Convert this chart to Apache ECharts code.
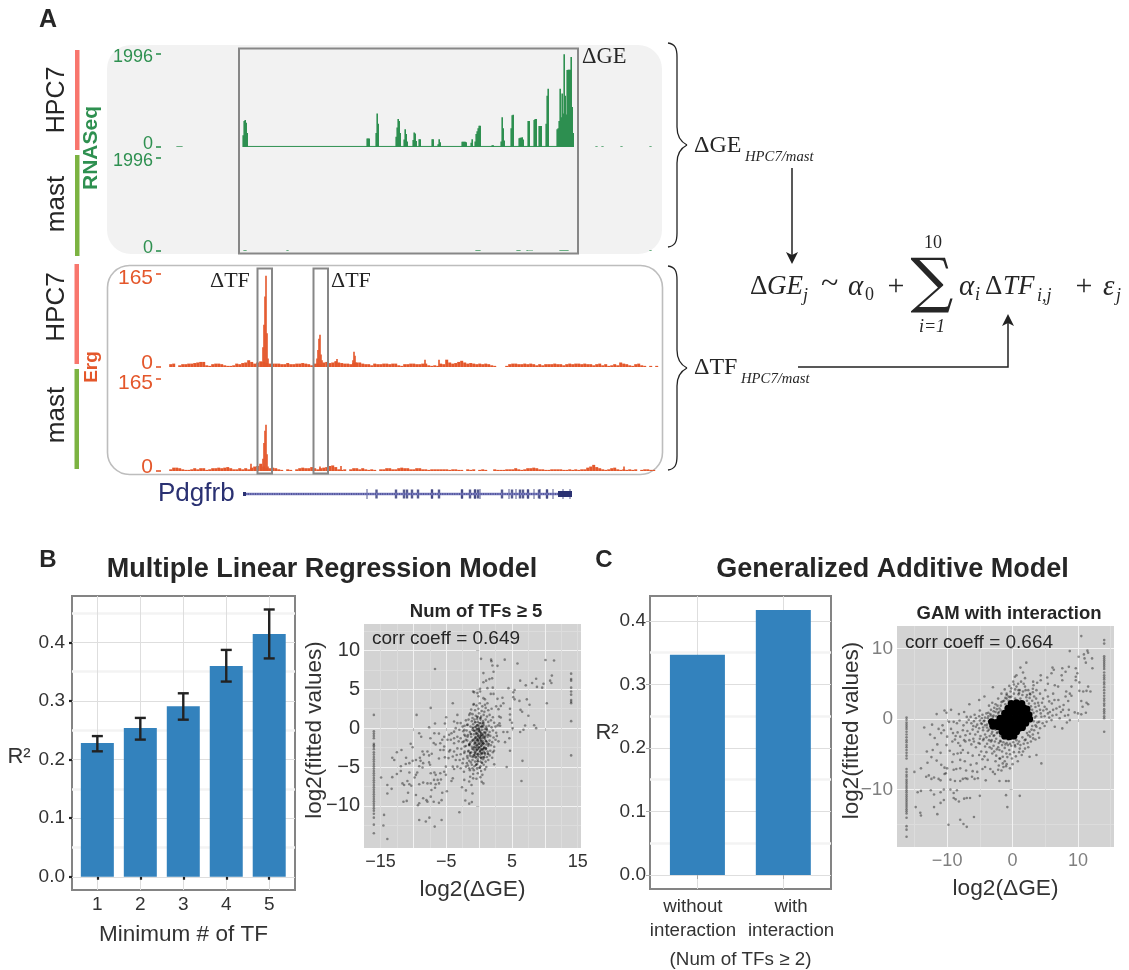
<!DOCTYPE html>
<html><head><meta charset="utf-8">
<script src="https://cdn.jsdelivr.net/npm/echarts@6/dist/echarts.min.js"></script>
<style>html,body{margin:0;background:#fff}#c{width:1129px;height:970px}</style></head>
<body><div id="c"></div>
<script>
// ---------- Panel A data (x = position along locus, y = track signal) ----------
const rnaHpc7Peaks=[[82,250],[83,560],[84,580],[85,520],[86,300],[206,180],[207,180],[208,180],[215,300],[216,720],[217,500],[235,220],[236,420],[237,600],[238,560],[239,300],[243,160],[244,380],[245,280],[246,120],[252,150],[253,310],[254,290],[255,130],[258,165],[259,165],[271,165],[272,165],[277,60],[278,165],[279,100],[301,110],[302,115],[303,115],[304,110],[305,100],[310,90],[311,165],[314,120],[315,280],[316,340],[317,400],[318,455],[319,455],[331,35],[332,35],[340,120],[341,640],[342,400],[343,140],[350,400],[351,680],[352,690],[358,190],[359,200],[360,200],[361,210],[362,160],[367,560],[368,560],[373,580],[374,600],[375,600],[378,450],[379,450],[380,450],[385,500],[386,1100],[387,1250],[396,380],[397,400],[398,560],[399,1250],[400,640],[401,1150],[402,720],[403,1990],[404,1100],[405,700],[406,1650],[407,1660],[408,1660],[409,1660],[410,1930],[411,860],[412,300]];
const rnaHpc7Base=[[82,12],[413,12]];
const rnaHpc7Stray=[[16,14],[17,14],[18,14],[19,14],[20,14],[21,14],[435,14],[436,14],[441,14],[442,14],[460,14],[461,14],[489,14],[490,14]];
const rnaMastStray=[[83,14],[84,14],[85,14],[126,14],[127,14],[315,14],[316,14],[317,14],[318,14],[319,14],[356,14],[357,14],[358,14],[359,14],[366,14],[367,14],[369,14],[371,14],[399,14],[400,14],[401,14],[402,14],[403,14],[404,14],[405,14],[406,14],[407,14],[489,14],[490,14]];
const ergBinStart=9;
const ergHpc7Small=[5,6,0,3,5,5,6,6,7,8, 9,9,3,2,5,6,6,5,3,2, 2,3,6,5,7,8,12,9,6,8, 10,9,7,6,6,6,6,5,5,7, 5,5,6,6,7,6,5,3,6,6, 5,8,9,7,8,10,8,7,6,6, 5,7,8,8,6,5,5,3,6,5, 5,6,6,5,6,6,3,2,5,5, 6,6,5,5,6,6,3,2,3,2, 6,5,13,8,6,7,9,11,8,6, 7,6,5,6,5,6,5,3,2,0, 0,0,2,5,6,6,5,5,6,5, 6,5,3,5,3,5,5,5,6,5, 5,3,5,6,5,6,6,5,6,5, 5,3,5,6,3,5,2,3,5,3, 8,6,5,3,2,5,6,3,2,0, 2,0,2];
const ergMastSmall=[3,6,6,5,3,2,2,3,5,3, 5,5,2,3,5,5,6,5,6,7, 5,3,3,5,3,5,3,6,8,9, 13,8,5,5,6,5,3,2,0,3, 2,0,3,5,6,5,5,7,5,3, 5,6,7,9,10,7,3,2,3,0, 3,5,5,3,5,3,2,3,2,0, 3,3,5,5,3,3,5,6,5,5, 3,3,5,5,3,3,2,3,3,3, 3,3,3,2,3,3,2,2,0,3, 2,3,0,2,3,2,0,0,3,2, 2,2,3,3,3,5,3,2,3,5, 5,6,5,3,3,2,2,3,3,3, 3,2,2,3,2,3,2,3,3,6, 8,11,7,5,3,2,3,5,6,3, 2,3,2,3,2,3,0,2,3,3, 2,2];
const ergHpc7Peaks=[[102,35],[103,75],[104,125],[105,162],[106,60],[107,15],[156,15],[157,30],[158,50],[159,57],[160,22],[161,12],[175,10],[176,14],[192,12],[193,27],[194,20],[195,8],[264,13],[278,13]];
const ergMastPeaks=[[102,22],[103,50],[104,72],[105,83],[106,30],[107,8],[90,13],[180,9],[159,8],[463,8]];
const geneSpan=[[82,0.5],[410,0.5]];
const geneCap=[[82,0.5],[85,0.5]];
const geneTail=[[397,0.5],[411,0.5]];
const geneExonsThin=[206,271,301,314,319,348,355,367,373,379,386,392,402,409];
const geneExonsThick=[215.5,235,243,246,251,257,271,278,301,309,314,317,341,351,359,362,367,378,386];
// ---------- Panel B data ----------
const barCatsB=[1,2,3,4,5];
const r2B=[0.228,0.2537,0.291,0.3595,0.414];
const errLowB=[0.214,0.234,0.268,0.333,0.3725];
const errHighB=[0.24,0.271,0.313,0.387,0.456];
const scatterColLeftB=[1.7,-0.4,-0.7,-1,-1.3,-2,-2.2,-2.4,-2.7,-3.1,-3.4,-3.7,-4,-4.3,-4.6,-4.9,-5.2,-5.5,-5.8,-6.1,-6.4,-6.7,-7,-7.3,-7.6,-7.9,-8.2,-8.5,-8.8,-9.1,-9.4,-9.7,-10,-10.3,-10.6,-11,-11.5,-12.4,-13.5];
const scatterColRightB=[7,6.3,6.1,5.2,4.7,4.3,3.6,3.4,3.2,0.9,-3.5];
const scatterLeftB=[[-6.7,7.6],[-9.5,1.7],[-7.35,2.6],[-4,3.2],[-5,1.4],[-5.2,.6],[-6.7,.6],[-7.6,.1],[-9.1,-.65],[-8.8,-1.1],[-6.8,-.65],[-6.1,-.7],[-7.4,-1.3],[-6.9,-1.9],[-6.6,-2.1],[-10.4,-2],[-10.1,-2.45],[-11.8,-2.8],[-12.5,-3.1],[-13.2,-3.8],[-12.9,-4.1],[-11.1,-3.8],[-10.6,-4.5],[-11.15,-4.6],[-11.9,-4.9],[-11.9,-5.5],[-12.5,-5.9],[-13.2,-6.3],[-14.9,-6.35],[-10.1,-4.2],[-9.6,-4.1],[-9,-3.8],[-8.6,-3],[-7.85,-3],[-8.4,-3.4],[-7.6,-3.5],[-7.2,-3.3],[-8.9,-4.2],[-8.5,-4.5],[-7.6,-4.4],[-7.45,-4.7],[-9.1,-4.9],[-8.6,-5.05],[-9.4,-5.7],[-9.6,-6],[-9.8,-6.35],[-10.6,-5.7],[-10.9,-6.8],[-11.65,-7.1],[-11.4,-7.3],[-10.6,-7.2],[-10.3,-7.4],[-13.95,-7.3],[-13.3,-7.8],[-13.95,-8.4],[-10.8,-8.3],[-8.5,-7],[-9.1,-7.2],[-7.85,-7.1],[-7.35,-7.1],[-7.35,-5.8],[-6.8,-5.7],[-6.6,-6],[-5.9,-5.8],[-5.3,-5.6],[-5.05,-6],[-6.85,-6.65],[-6.3,-6.65],[-5.8,-6.6],[-6.1,-7.1],[-6.6,-7.2],[-7.25,-7.95],[-6.7,-7.65],[-5.6,-8.3],[-4.9,-8.1],[-9.6,-8.6],[-7.35,-8.8],[-8.5,-9],[-8,-9.25],[-7.85,-9.45],[-6.9,-9.45],[-6.1,-9.6],[-5.7,-9.25],[-9.1,-9.65],[-9.3,-9.9],[-11.5,-9.45],[-11,-9.35],[-3,-10.8],[-14.45,-11.15],[-14.55,-12.5],[-13.95,-14.25],[-9.1,-11.8],[-8.1,-12],[-7.55,-11.5],[-6.75,-12.65],[-5.7,-11.8],[-5.3,-1.1],[-4.8,-1.5],[-5.6,-1.5],[-5.9,-1.95],[-5.3,-2.35],[-5.9,-2.8],[-5.4,-2.8],[-4.55,-3],[-5.2,-3.75],[-6.1,-3.9],[-4.65,-3.85],[-4,-4.95],[-3.3,-4.95],[-3.8,-5.25],[-5.05,-4.95],[-4,-6.45],[-4.2,-6.8],[-2.6,-7.6],[-2,-8],[-1,-8.4],[-.9,-6.45],[-1.35,-6.25],[-2.3,-5.6],[-2.8,-5.15],[-2,-4.95],[-1.5,-5.15],[-4.55,-.85],[-4.2,-.65],[-3.8,-.45],[-3.3,1.7],[-3.8,.85],[-3.3,.65],[-2.8,.65],[-3.55,0],[-3,-.2],[-2.5,.2],[-2.25,-.2],[-1.75,.45],[-1.35,1.9],[-1,1.3],[-.85,3],[-.9,4.7],[-4.3,-1.5],[-3.8,-1.3],[-3.3,-1.1],[-2.8,-1.3],[-2.25,-.85],[-1.75,-1.1],[-3.8,-1.95],[-3.1,-1.7],[-2.5,-1.8],[-2,-1.5],[-4.4,-2.8],[-3.8,-3],[-3.3,-2.6],[-2.7,-2.65],[-2.2,-2.35],[-1.5,-2.15],[-4,-3.65],[-3.4,-3.45],[-2.8,-3.35],[-2.25,-3.2],[-1.65,-3],[-3.55,-4.1],[-2.95,-4.1],[-2.4,-3.95],[-1.75,-3.85],[-1.15,-3.65],[-2.5,-4.5],[-1.85,-4.5],[-1.25,-4.4],[-1,-5.15],[-2.25,-6.65],[-1.5,-6.85],[-1.15,-7.3],[-2.1,-9.3],[-1.5,-9.7],[-1.1,-9.5]];
const scatterRightB=[[.3,8.9],[1.83,8.8],[1.88,8.6],[3.9,8.8],[5.84,8.3],[2.03,8.05],[2.8,8],[10.1,8.75],[11.4,8.7],[2.2,7.25],[.66,7.07],[11.07,6.75],[1.98,6.4],[1.57,6.3],[1.07,6.1],[.66,5.9],[8.68,6.35],[6.25,6.1],[8.07,5.8],[10.8,6.1],[11,5.8],[7.1,5.5],[9.8,5.7],[9.6,5.2],[8.8,5.3],[4.47,5.14],[5.4,4.9],[5.2,4.6],[.15,5.05],[1.27,5.14],[2.08,5.2],[-.76,4.6],[-.25,4.5],[.15,4.7],[1.78,4.4],[2.2,4.4],[.66,3.85],[-.1,4.1],[.9,3.7],[2.8,3.76],[3.55,3.9],[5.2,3.98],[5.4,3.7],[6.14,3.5],[7.26,3.7],[7.67,3],[3.7,3.2],[3.3,2.86],[2.6,2.8],[2.95,2.44],[1.27,3.2],[.9,3],[4.7,2.5],[6.3,2.35],[6.55,2.1],[10.3,3.2],[7.5,1.6],[4.7,1.75],[3.05,1.5],[3.3,1.36],[4.7,1.06],[5,.7],[3.1,.63],[3.2,.3],[2.85,.35],[7,.33],[8.38,.37],[8.68,0],[6.75,-.2],[6.25,-.5],[3.7,-.5],[4.3,-.5],[5.1,0],[4.6,-1.3],[3.95,-1.8],[2.95,-1.7],[2.7,-1],[2.28,-2.9],[4.7,-2.9],[2.3,-4.65],[6.6,-4.2],[4.2,-5],[6.45,-6.8],[.66,-7.1],[.4,-6.9]];
const scatterBlobB=[[-.8,3.1],[-.4,2.9],[.1,3.2],[.5,2.8],[1,2.6],[-1.2,2.4],[-.6,2.3],[-.1,2.5],[.4,2.2],[.8,2.1],[1.4,2.3],[1.9,2.5],[-1.5,1.7],[-1,1.8],[-.5,1.6],[0,1.9],[.3,1.5],[.7,1.7],[1.2,1.5],[1.6,1.7],[2.1,1.4],[-2,1],[-1.6,1.1],[-1.1,.9],[-.7,1.1],[-.2,.8],[.2,1.1],[.6,.9],[1,1.1],[1.4,.8],[1.8,1],[2.3,.7],[-2.2,.3],[-1.8,.4],[-1.3,.2],[-.9,.5],[-.5,.2],[-.1,.4],[.3,.1],[.7,.4],[1.1,.2],[1.5,.3],[1.9,.1],[2.5,.2],[-2.4,-.4],[-1.9,-.3],[-1.4,-.5],[-1,-.2],[-.6,-.4],[-.3,-.1],[.1,-.5],[.5,-.2],[.8,-.5],[1.2,-.3],[1.6,-.5],[2.1,-.3],[2.6,-.6],[-2.1,-1],[-1.7,-.9],[-1.2,-1.1],[-.8,-.8],[-.5,-1.1],[-.2,-.8],[.1,-1.1],[.4,-.8],[.7,-1.2],[1,-.9],[1.3,-1.1],[1.7,-1],[2.2,-1.2],[-2.3,-1.7],[-1.8,-1.6],[-1.3,-1.8],[-.9,-1.5],[-.6,-1.7],[-.3,-1.4],[0,-1.8],[.3,-1.5],[.6,-1.7],[.9,-1.4],[1.2,-1.8],[1.6,-1.6],[2,-1.8],[2.5,-1.5],[-2,-2.3],[-1.5,-2.2],[-1.1,-2.4],[-.7,-2.1],[-.4,-2.4],[-.1,-2.1],[.2,-2.4],[.5,-2.1],[.8,-2.4],[1.1,-2.1],[1.4,-2.3],[1.8,-2.2],[2.3,-2.4],[-2.2,-3],[-1.6,-2.9],[-1.2,-3.1],[-.8,-2.8],[-.5,-3],[-.2,-2.7],[.1,-3.1],[.4,-2.8],[.7,-3],[1,-2.7],[1.3,-3],[1.7,-2.9],[2.1,-3.1],[-1.8,-3.6],[-1.4,-3.5],[-.9,-3.7],[-.6,-3.4],[-.2,-3.6],[.2,-3.4],[.5,-3.7],[.9,-3.4],[1.2,-3.7],[1.6,-3.5],[2,-3.8],[-1.5,-4.2],[-1,-4.1],[-.6,-4.3],[-.2,-4],[.2,-4.3],[.6,-4],[1,-4.3],[1.4,-4.1],[-1.7,-4.8],[-1.1,-4.7],[-.7,-4.9],[-.3,-4.6],[.2,-4.9],[.7,-4.7],[1.1,-5],[-1.4,-5.4],[-.8,-5.4],[-.3,-5.2],[.3,-5.5],[.9,-5.3],[-.9,-5.9],[-.2,-5.8],[.5,-6],[-.4,-6.5],[.2,-6.3],[-.6,.1],[.2,-.3],[.1,-1.5],[-.1,-1.3],[.3,-1],[-.3,-.6],[.4,-1.9],[.5,-1.3],[-.4,-1.9],[0,-2.6],[.2,-.9],[.6,-.7],[-.7,-1.4],[-.2,-1.6],[.7,-2],[.3,-2.7],[-.5,-2.6],[.6,.2],[0,.2],[-.3,1.2],[.4,.6],[.9,-.1],[.1,-3.7],[-.3,-3.3],[.4,-3.2],[-.4,-.2]];
const scatterCoreB=[[-.05,-.35],[.25,-.6],[-.45,-.7],[.55,-.95],[-.15,-1],[.15,-1.25],[-.55,-1.25],[.85,-1.15],[-.25,-1.55],[.35,-1.7],[-.65,-1.9],[.05,-2],[.65,-1.95],[-.35,-2.2],[.35,-2.25],[-.05,-2.45],[.75,-2.55],[-.75,-2.45],[.55,-2.7],[-.35,-2.8],[.15,-2.95],[-.65,-3.15],[.45,-3.25],[-.15,-3.35],[.85,-3.2],[-.5,-3.75],[.3,-3.85],[-.05,-.1],[.4,.25],[-.3,.35],[.1,.65],[-.8,-.3],[.95,-.6],[-1,-1.6],[1.05,-1.65],[-1,-2.65],[1.05,-2.6],[-.8,-3.5],[.75,-3.75],[-.2,-4.25],[.45,-4.45],[-.45,-4.7],[.1,-5.1],[.65,.65],[-.6,.75],[.2,1.3],[-.25,1.45],[-.95,.05],[1.15,-.1],[-1.25,-.75],[1.4,-.85],[-1.45,-2.05],[1.45,-2.05],[-1.35,-3.2],[1.35,-3.3]];
// ---------- Panel C data ----------
const barCatsC=[1,2];
const barLabelPosC=[0.948,2.09];
const barLabelsC=['without\ninteraction','with\ninteraction'];
const r2C=[0.3467,0.417];
const scatterColLeftC=[.2,-.1,-.5,-.8,-1.1,-1.4,-1.8,-2.2,-2.6,-3,-3.3,-3.7,-4,-4.4,-4.8,-5.2,-5.6,-7.1,-7.5,-7.9,-8.2,-8.6,-8.9,-9.2,-9.5,-9.8,-10.1,-10.4,-10.7,-11,-11.3,-11.6,-11.9,-12.2,-12.5,-12.8,-13.1,-13.4,-14,-15.2,-15.7,-16.7];
const scatterColRightC=[11.2,10.7,8.9,8.6,8.3,8,7.7,7.4,7.1,6.6,6.2,5.9,5.6,5.2,4.9,4.5,4.1,3.7,3.3,2.9,2.6,2.2,1.9,1.4,1.1,.8,.4,.1,-1.8];
const scatterLeftC=[[-9.8,-15],[-8,-14.3],[-7.5,-14.9],[-7,-15.3],[-5.9,-13.9],[-11.5,-13.5],[-14.1,-13.3],[-14,-13.7],[-14.8,-12.5],[-12,-12.5],[-11,-11.9],[-10.5,-11.5],[-9,-11.2],[-8.7,-11.4],[-8.2,-11.7],[-7.4,-11.3],[-7,-11.2],[-6.5,-11.2],[-5,-10.9],[-1,-10.8],[1.1,-10.9],[-.8,-12.5],[-14.5,-10.4],[-14,-10.2],[-12.5,-10.1],[-12,-10.7],[-11,-10.4],[-10.5,-10],[-9.5,-10],[-9,-10.5],[-8.5,-10.1],[-15,-7.5],[-14,-7],[-13.2,-8.2],[-12.8,-8],[-12.4,-8.5],[-12,-8.3],[-11.3,-8.5],[-11,-8.7],[-10.4,-7.8],[-10.2,-7.7],[-9.5,-8.6],[-8.8,-8.8],[-8,-8.8],[-7.6,-8.5],[-7.2,-8.4],[-6.9,-8.5],[-6.2,-8.2],[-5.8,-8.5],[-5.3,-8.4],[-4.1,-8.7],[-2,-8.8],[-1,-8.8],[-.6,-8.8],[-3,-7.5],[-2.1,-6.6],[-1.5,-6.3],[-1,-6.7],[-13,-6.2],[-12.4,-5.4],[-11.6,-5.9],[-10.9,-6.5],[-10.4,-6.9],[-10,-7],[-9,-7.2],[-8.6,-7.1],[-8,-7],[-7.3,-6],[-6.4,-6.5],[-5.5,-6.3],[-4.6,-5.7],[-4.2,-6.8],[-3.8,-5.8],[-3.4,-7.1],[-2.5,-5.2],[-2,-5.6],[-13.1,-4.6],[-12.2,-4.4],[-11.5,-3.6],[-11,-4.8],[-10.1,-3.7],[-9.6,-4.5],[-9,-5],[-8.8,-2.9],[-8.3,-3.4],[-8,-3.8],[-7.6,-4.4],[-7.2,-3.2],[-6.8,-4.8],[-6.3,-3.6],[-6,-2.8],[-5.6,-4],[-5.2,-3.4],[-4.8,-4.6],[-4.5,-3],[-4,-4.7],[-3.5,-4],[-3.1,-4.9],[-2.7,-3.2],[-2.2,-4],[-1.8,-3.2],[-12.6,-2.2],[-11.9,-2.7],[-11.3,-1.4],[-10.9,-2],[-10.5,-1.6],[-10,-2.5],[-9.4,-1.4],[-9.1,-2],[-8.7,-2.4],[-8.4,-1.9],[-8,-2.5],[-7.6,-1.6],[-7.2,-2.3],[-6.9,-1.7],[-6.5,-2.1],[-6.1,-1.5],[-5.7,-2.2],[-5.3,-1.8],[-4.9,-2.4],[-4.5,-1.6],[-4.2,-2.2],[-3.8,-1.7],[-3.5,-2.4],[-3.1,-1.8],[-2.8,-2.3],[-2.4,-2],[-12.3,-.8],[-13.5,-1.2],[-10.7,-.9],[-10.1,.9],[-9.4,1.3],[-10.4,1.2],[-9.7,-.4],[-9,-.4],[-8.5,-.6],[-8.1,-.2],[-7.5,-.9],[-7,-.5],[-6.7,-.1],[-6.3,-.6],[-5.9,-.3],[-5.4,-.8],[-5,-.2],[-4.7,-.7],[-4.3,-.2],[-3.9,-.8],[-3.6,-.3],[-3.2,-.7],[-7,.3],[-6.4,.3],[-5.8,.6],[-5,1.2],[-4.6,.6],[-4.2,.2],[-3.7,.4],[-3.3,.5],[-3,.3],[-7.4,1],[-8.2,.7],[-11.6,.7],[-6.6,2.1],[-5.1,2.7],[-4.3,3.2],[-3,4.5],[-2.6,2.1],[-3.3,1.3],[-2.6,1],[-2.2,.8],[-2,1.5],[-1.8,1.2],[-1.5,2.5],[-1.1,3],[-.6,3.2],[-9.2,-6.1],[-8,-5.8],[-7.1,-7.3],[-6.1,-7.4],[-5.4,-7.5],[-4.6,-7.1],[-3.3,-3.2],[-2.9,-3.8],[-3.9,-3.5],[-4.2,-3.9],[-5,-3.5],[-5.9,-3.2],[-6.6,-3],[-7.4,-3],[-9.2,-3.2],[-7.9,-4.8],[-8.4,-4.9],[-6.1,-5.2],[-5.1,-5.1],[-4.3,-5.3]];
const scatterRightC=[[10.5,11.77],[8.74,9.64],[11.44,9.7],[11.54,9.4],[10.1,8.84],[10.9,9.17],[11,8.6],[11.2,8],[12.15,8.6],[12.2,7.2],[2.1,8],[1.2,7.3],[9.66,7.2],[8.6,7.4],[7.6,7.2],[6.1,7.3],[6.3,7],[8.1,6.7],[9.9,6.5],[10.2,5.2],[9.66,6],[9.66,5.5],[7.5,6.2],[5.95,6.5],[5.3,5.9],[4.3,6.2],[4.3,5.5],[7.6,5.5],[6.96,4.6],[6.45,4.8],[5.4,5],[3.76,5.15],[3.15,5.3],[3.2,4.8],[9,4.6],[11.55,4.6],[11.3,4],[11.9,3.9],[10.8,3.9],[10.2,4],[8.2,3.9],[8.75,3.6],[9,3.3],[8.1,3.2],[10.5,2.55],[11.3,2.3],[11.55,2.1],[8.5,2.55],[10.7,1.75],[7.8,2],[7.2,1.75],[7.7,1.3],[8.6,1.3],[9.5,.94],[10,.8],[10.5,.66],[11.2,.9],[8.5,.56],[8,.47],[8.75,-.15],[8.3,-.5],[7.6,-1.33],[6.45,-1.1],[5.95,-.15],[5.2,-.4],[4.9,-1],[4.06,-.4],[3.65,-1.1],[4.4,.33],[5.4,.8],[6.2,1.3],[6.7,1.5],[4.9,1.75],[4.2,1.3],[6,2.2],[7,2.7],[5.4,3.2],[6.2,3.6],[4.67,2.9],[4.2,3.6],[5,4.1],[3.65,4.1],[2.64,3.6],[.35,6],[.6,6.2],[1.6,6.6],[1.9,5.8],[.1,5.3],[.85,5],[1.9,4.6],[-.2,4.35],[-.9,3.6],[1.1,4.1],[2.4,4.1],[1.6,-4.6],[2.6,-5.35],[3.65,-5.1],[4.4,-6.3],[-.4,-7],[-1.2,-6],[-1.5,-5.35],[-2,-4.4],[-.95,-4.9],[.35,-3.7],[4.06,-2.65],[3.15,-2.75],[2.4,-2.3],[1.87,-3],[1.1,-4.2],[-.1,-5.6],[-1.4,-6.8],[-.9,-6.4],[-2.2,-7.2],[-1.7,-7.3],[-2.7,-7.8],[3.2,.9],[3.5,1.7],[3.9,2.3],[3,2.6],[3.3,3.2],[2.8,1.8],[2.6,3],[2.2,3.4],[1.5,3.4],[.9,3.5],[.2,3.6],[-.4,3.1],[3.6,.4],[3.2,-.3],[3.5,-.9],[2.9,-1.5],[2.6,-1.8],[3.1,-2.2],[2,-2.9],[1.5,-2.6],[1,-3.2],[.6,-3],[.1,-3.3],[-.4,-3.5],[-.9,-3.4],[-1.4,-3.3],[-1.9,-3.1],[-1.2,-4.1],[-.5,-4.4],[.2,-4.7],[4.6,-.6],[5.6,.2],[6.7,.6],[7.2,.1],[7.4,1],[6.4,2.7],[5.6,2.5],[4.5,2.3],[3.1,3.8],[2.2,2.6],[1.2,2.9],[.4,2.9],[-.6,2.6],[-1.1,2.1],[-1.8,1.9],[-2.4,1.4],[-2.9,1.1],[-3.2,-2.1],[-2.6,-1.5],[-2.3,-1.9],[-1.9,-2.4],[-1.2,-2.7],[-.7,-2.9],[-2.9,-.9],[-3.4,-1],[-3.7,.9]];
const scatterHaloC=[[-.9,3.4],[-.3,3.9],[.4,4.2],[1,3.7],[1.6,3.9],[2.1,3.1],[2.7,3.5],[-.5,4.7],[.6,4.6],[1.3,5.3],[2.5,2.2],[3,1.3],[3.4,2.2],[3.7,1.1],[4,1.9],[4.3,.8],[4.7,1.2],[3.4,.2],[3.8,-.5],[4.2,-1.3],[3,-1],[3.3,-1.6],[2.7,-2.5],[2.2,-2],[2.3,-3.4],[1.7,-3.5],[1.2,-3.7],[.8,-3.5],[.4,-3.9],[-.2,-3.8],[-.7,-3.7],[-1.1,-3.6],[-1.6,-3.7],[-2.1,-3.4],[-2.5,-2.8],[-2.9,-2.4],[-3.2,-3],[-3.6,-1.5],[-3.9,-1.2],[-4.2,-.9],[-4.5,-1.2],[-4.8,-.6],[-5.1,-1.3],[-4.4,-.3],[-3.8,.1],[-3.4,.7],[-2.9,.5],[-2.5,.4],[-2.1,1],[-2.8,1.6],[-2.3,1.9],[-1.7,2.4],[-1.3,2.6],[-.9,2.9],[-.2,3.2],[.9,4.1],[2,4.1],[3.6,2.9],[4.9,.4],[5.2,1.4],[5.7,1],[6.1,.5],[2.8,-3.2],[1.9,-4.2],[1,-4.7],[.5,-5.3],[-.4,-5],[-.8,-5.4],[-1.6,-4.6],[-2.4,-4.3],[-2.8,-4.6],[-3.2,-4.2],[-3.6,-3],[-4,-2.6],[-4.4,-2.8],[-5,-2.8],[-5.6,-1.1],[-6,-1],[-5.6,.1],[-5.1,.4],[-4.7,.1],[-4,.8],[3.9,-2],[3.5,-2.9],[2.4,-4],[1.4,-5.1],[.8,-6],[0,-6.4],[-1.9,-5.6],[-2.6,-6],[3.1,4.3],[1.7,5],[.2,4.9],[-1.2,4.2],[-1.7,3.6],[-2.2,2.9],[-3.1,2.3],[-3.6,1.9]];
const scatterCoreC=[[-.2,2.2],[.6,2.3],[1.4,2.2],[-.7,1.5],[.1,1.6],[.9,1.5],[1.7,1.6],[2.2,1.4],[-1.2,.8],[-.4,.9],[.4,.8],[1.2,.9],[2,.8],[2.5,.6],[-1.9,.1],[-1.1,.2],[-.3,.1],[.5,.2],[1.3,.1],[2.1,.1],[2.6,0],[-3.2,-.4],[-2.5,-.5],[-1.7,-.5],[-.9,-.6],[-.1,-.5],[.7,-.6],[1.5,-.5],[2,-.6],[-3,-1],[-2.2,-1.1],[-1.4,-1.2],[-.6,-1.3],[.2,-1.2],[1,-1.3],[1.5,-1.2],[-1.6,-1.8],[-.9,-1.9],[-.1,-1.9],[.6,-1.8],[-1.2,-2.4],[-.5,-2.5],[.2,-2.4]];
const yTicksB=[0,0.1,0.2,0.3,0.4], yMinorB=[0.05,0.15,0.25,0.35,0.45];
const yTicksC=[0,0.1,0.2,0.3,0.4], yMinorC=[0.05,0.15,0.25,0.35];
const sansFont='"Liberation Sans",Arial,sans-serif', serifFont='"Liberation Serif",serif';

const grids=[],xAxes=[],yAxes=[],series=[];
const col={green:'#2e9050',orange:'#e4572b',blue:'#3382bd',dark:'#262626'};
function addGrid(g){grids.push(g);return grids.length-1;}
function axisPair(axes,gridIndex,main,minorVals,minorColor,minorWidth){
  axes.push(Object.assign({type:'value',gridIndex},main));
  const idx=axes.length-1;
  if(minorVals){axes.push({type:'value',gridIndex,min:main.min,max:main.max,z:0,axisLine:{show:false},axisLabel:{show:false},
    axisTick:{show:false,customValues:minorVals},splitLine:{show:true,customValues:minorVals,lineStyle:{color:minorColor,width:minorWidth}}});}
  return idx;
}
function bars(xi,yi,data,color,w,z){series.push({type:'bar',xAxisIndex:xi,yAxisIndex:yi,data,barWidth:w,barGap:'-100%',itemStyle:{color},silent:true,z:z||2,animation:false,clip:true});}

// ---------- tracks ----------
function track(top,h,ymax,color,fs,lh){
  const gi=addGrid({left:161,top,width:498,height:h,containLabel:false,show:false});
  xAxes.push({type:'value',gridIndex:gi,min:0,max:498,show:false});const xi=xAxes.length-1;
  yAxes.push({type:'value',gridIndex:gi,min:0,max:ymax,interval:ymax,axisLine:{show:false},
    axisTick:{show:true,length:5,inside:false,lineStyle:{color,width:1.6}},splitLine:{show:false},
    axisLabel:{color,fontSize:fs,fontFamily:sansFont,margin:8,verticalAlignMaxLabel:'top',verticalAlignMinLabel:'bottom',lineHeight:lh,formatter:v=>String(v)}});
  return [xi,yAxes.length-1];
}
let t=track(54,93,1996,col.green,18,6);
bars(t[0],t[1],rnaHpc7Peaks,col.green,1.6,3);
bars(t[0],t[1],rnaHpc7Stray,col.green,1.2,3);
series.push({type:'line',xAxisIndex:t[0],yAxisIndex:t[1],data:rnaHpc7Base,showSymbol:false,lineStyle:{color:col.green,width:1},animation:false,z:3});
t=track(158,93,1996,col.green,18,6);
bars(t[0],t[1],rnaMastStray,col.green,1.2,3);
const binned=v=>v.map((y,i)=>[ergBinStart+i*3,y]);
t=track(274,93,165,col.orange,21,8);
bars(t[0],t[1],binned(ergHpc7Small),col.orange,3,3);
bars(t[0],t[1],ergHpc7Peaks,col.orange,1.6,3);
t=track(379,92,165,col.orange,21,8);
bars(t[0],t[1],binned(ergMastSmall),col.orange,3,3);
bars(t[0],t[1],ergMastPeaks,col.orange,1.6,3);
// gene model
{const gi=addGrid({left:161,top:487,width:498,height:14,show:false});
 xAxes.push({type:'value',gridIndex:gi,min:0,max:498,show:false});yAxes.push({type:'value',gridIndex:gi,min:0,max:1,show:false});
 const xi=xAxes.length-1,yi=yAxes.length-1,navy='#2a3172';
 series.push({type:'line',xAxisIndex:xi,yAxisIndex:yi,data:geneSpan,showSymbol:false,animation:false,lineStyle:{color:'#7a7cc0',width:2.6}});
 series.push({type:'line',xAxisIndex:xi,yAxisIndex:yi,data:geneSpan,showSymbol:false,animation:false,lineStyle:{color:navy,width:1.2,type:[1,1.4]}});
 series.push({type:'line',xAxisIndex:xi,yAxisIndex:yi,data:geneCap,showSymbol:false,animation:false,lineStyle:{color:navy,width:4}});
 series.push({type:'line',xAxisIndex:xi,yAxisIndex:yi,data:geneTail,showSymbol:false,animation:false,lineStyle:{color:navy,width:6}});
 series.push({type:'scatter',xAxisIndex:xi,yAxisIndex:yi,data:geneExonsThin.map(x=>[x,.5]),symbol:'rect',symbolSize:[1,10],itemStyle:{color:navy},animation:false,silent:true});
 series.push({type:'scatter',xAxisIndex:xi,yAxisIndex:yi,data:geneExonsThick.map(x=>[x,.5]),symbol:'rect',symbolSize:[2.4,9],itemStyle:{color:navy},animation:false,silent:true});
}
// ---------- bars ----------
function barPanel(o){
  const gi=addGrid({left:o.left,top:596,width:o.width,height:294,show:true,backgroundColor:'#fff',borderColor:'#848484',borderWidth:2,z:0});
  const xi=axisPair(xAxes,gi,{min:o.xmin,max:o.xmax,position:'bottom',axisLine:{show:false},
    axisTick:{show:true,length:o.tickLen,customValues:o.cats,lineStyle:{color:o.tickColor,width:o.tickW}},
    axisLabel:{show:true,customValues:o.labelPos||o.cats,color:'#333',fontSize:o.xfs,fontFamily:sansFont,margin:o.xmargin,lineHeight:24,formatter:o.xfmt,hideOverlap:false,showMinLabel:true,showMaxLabel:true},
    splitLine:{show:true,customValues:o.cats,lineStyle:{color:'#dedede',width:1}},
    name:o.xname,nameLocation:'middle',nameGap:o.xgap,nameMoveOverlap:false,nameTextStyle:{color:'#333',fontSize:o.xnfs,fontFamily:sansFont}});
  const yi=axisPair(yAxes,gi,{min:o.ymin,max:o.ymax,axisLine:{show:false},
    axisTick:{show:true,length:o.tickLen,customValues:o.yticks,lineStyle:{color:o.tickColor,width:o.tickW}},
    axisLabel:{show:true,customValues:o.yticks,color:'#333',fontSize:19,fontFamily:sansFont,margin:o.ymargin,padding:[0,0,6,0],formatter:v=>v.toFixed(1),hideOverlap:false,showMinLabel:true,showMaxLabel:true},
    splitLine:{show:true,customValues:o.yticks,lineStyle:{color:'#dedede',width:1}}},o.yminor,'#f3f3f3',2.5);
  series.push({type:'bar',xAxisIndex:xi,yAxisIndex:yi,data:o.cats.map((c,i)=>[c,o.vals[i]]),barWidth:o.barW,itemStyle:{color:col.blue},animation:false,z:2,silent:true});
  return [xi,yi];
}
const bp=barPanel({left:72,width:223,xmin:0.41,xmax:5.6,ymin:-0.0226,ymax:0.479,cats:barCatsB,vals:r2B,yticks:yTicksB,yminor:yMinorB,
  tickLen:3,tickColor:'#222',tickW:2.2,xfs:19,xmargin:3,xname:'Minimum # of TF',xgap:33,xnfs:22.5,ymargin:7,barW:33,xfmt:v=>String(v)});
series.push({type:'custom',xAxisIndex:bp[0],yAxisIndex:bp[1],z:5,animation:false,silent:true,
  data:barCatsB.map((c,i)=>[c,errLowB[i],errHighB[i]]),encode:{x:0,y:[1,2]},
  renderItem(p,api){const a=api.coord([api.value(0),api.value(1)]),b=api.coord([api.value(0),api.value(2)]);
    const st={stroke:'#222',lineWidth:2.4},c=5.5;
    return {type:'group',children:[
      {type:'line',shape:{x1:a[0],y1:a[1],x2:b[0],y2:b[1]},style:st},
      {type:'line',shape:{x1:a[0]-c,y1:a[1],x2:a[0]+c,y2:a[1]},style:st},
      {type:'line',shape:{x1:b[0]-c,y1:b[1],x2:b[0]+c,y2:b[1]},style:st}]};}});
barPanel({left:650,width:181,xmin:0.448,xmax:2.555,ymin:-0.022,ymax:0.439,cats:barCatsC,labelPos:barLabelPosC,vals:r2C,yticks:yTicksC,yminor:yMinorC,
  tickLen:4,tickColor:'#aaa',tickW:1,xfs:18.7,xmargin:6,xname:'(Num of TFs ≥ 2)',xgap:61,xnfs:18.8,ymargin:4,barW:55,xfmt:v=>barLabelsC[v<1.5?0:1]});
// ---------- scatters ----------
function scatterPanel(o){
  const gi=addGrid({left:o.left,top:o.top,width:o.width,height:o.height,show:true,backgroundColor:'#d3d3d3',borderWidth:0,z:0});
  const xi=axisPair(xAxes,gi,{min:o.xmin,max:o.xmax,axisLine:{show:false},
    axisTick:{show:true,length:3,customValues:o.xticks,lineStyle:{color:'#bbb'}},
    axisLabel:{show:true,customValues:o.xlabels,color:o.tickColor,fontSize:18,fontFamily:sansFont,margin:5,hideOverlap:false,showMinLabel:true,showMaxLabel:true,formatter:v=>String(v).replace('-','−')},
    splitLine:{show:true,customValues:o.xticks,lineStyle:{color:'#f2f2f2',width:1}},
    name:'log2(ΔGE)',nameLocation:'middle',nameGap:o.xgap,nameMoveOverlap:false,nameTextStyle:{color:'#333',fontSize:22.7,fontFamily:sansFont}},o.xminor,'#dcdcdc',1);
  const yi=axisPair(yAxes,gi,{min:o.ymin,max:o.ymax,axisLine:{show:false},
    axisTick:{show:true,length:3,customValues:o.yticks,lineStyle:{color:'#bbb'}},
    axisLabel:{show:true,customValues:o.yticks,color:o.tickColor,fontSize:o.yfs,fontFamily:sansFont,margin:4,hideOverlap:false,showMinLabel:true,showMaxLabel:true,formatter:v=>String(v).replace('-','−')},
    splitLine:{show:true,customValues:o.yticks,lineStyle:{color:'#f2f2f2',width:1}},
    name:'log2(fitted values)',nameLocation:'middle',nameGap:o.ygap,nameMoveOverlap:false,nameTextStyle:{color:'#333',fontSize:22.5,fontFamily:sansFont,padding:[0,0,0,12]}},o.yminor,'#dcdcdc',1);
  o.layers.forEach(l=>series.push({type:'scatter',xAxisIndex:xi,yAxisIndex:yi,data:l.data,symbolSize:l.size||2.6,
    itemStyle:{color:'#000',opacity:l.op||0.4},animation:false,silent:true,large:false,z:3}));
}
const col2=(x,ys)=>ys.map(y=>[x,y]);
scatterPanel({left:364,top:624,width:217,height:224,xmin:-17.5,xmax:15.5,ymin:-15.4,ymax:13.38,tickColor:'#333',yfs:20,
  xticks:[-10,-5,0,5,10],xlabels:[-15,-5,5,15],xminor:[-15,-12.5,-7.5,-2.5,2.5,7.5,12.5,15],yticks:[-10,-5,0,5,10],yminor:[-12.5,-7.5,-2.5,2.5,7.5,12.5],xgap:30,ygap:38,
  layers:[{data:col2(-16,scatterColLeftB)},{data:col2(14,scatterColRightB)},{data:scatterLeftB},{data:scatterRightB},{data:scatterBlobB},{data:scatterCoreB,op:.6}]});
scatterPanel({left:897,top:626,width:217,height:221,xmin:-17.66,xmax:15.5,ymin:-18.16,ymax:13.2,tickColor:'#7f7f7f',yfs:19,
  xticks:[-10,0,10],xlabels:[-10,0,10],xminor:[-15,-5,5,15],yticks:[-10,0,10],yminor:[-15,-5,5],xgap:30,ygap:34,
  layers:[{data:col2(-16.2,scatterColLeftC)},{data:col2(14,scatterColRightC)},{data:scatterLeftC},{data:scatterRightC},{data:scatterHaloC},{data:scatterCoreC,size:7.2,op:1}]});

// ---------- annotations ----------
const txt=(x,y,text,o={})=>({type:'text',x,y,rotation:o.rot||0,z:20,silent:true,style:{text,fill:o.c||col.dark,font:`${o.b?'bold ':''}${o.i?'italic ':''}${o.s||18}px ${o.f||sansFont}`,align:o.a||'center',verticalAlign:'middle'}});
const rect=(x,y,w,h,o)=>({type:'rect',z:o.z||1,silent:true,shape:{x,y,width:w,height:h,r:o.r||0},style:{fill:o.fill||'none',stroke:o.stroke||'none',lineWidth:o.lw||0}});
const poly=(pts,fill)=>({type:'polygon',z:20,silent:true,shape:{points:pts},style:{fill}});
const braceStyle={stroke:'#222',lineWidth:1.3,fill:'none'};
const pl=(pts)=>({type:'polyline',z:20,silent:true,shape:{points:pts},style:{stroke:'#222',lineWidth:1.5,fill:'none'}});
const bez=(x1,y1,cx1,cy1,cx2,cy2,x2,y2)=>({type:'bezierCurve',z:20,silent:true,shape:{x1,y1,x2,y2,cpx1:cx1,cpy1:cy1,cpx2:cx2,cpy2:cy2},style:braceStyle});
const brace=(yT,yM,yB)=>[
 bez(668,yT,675,yT+1,677,yT+5,677,yT+14),
 {type:'line',z:20,silent:true,shape:{x1:677,y1:yT+14,x2:677,y2:yM-18},style:braceStyle},
 bez(677,yM-18,677,yM-8,681,yM-3,687,yM),
 bez(687,yM,681,yM+3,677,yM+8,677,yM+18),
 {type:'line',z:20,silent:true,shape:{x1:677,y1:yM+18,x2:677,y2:yB-14},style:braceStyle},
 bez(677,yB-14,677,yB-5,675,yB-1,668,yB)];
const graphic=[
 rect(107,45,555,209,{fill:'#f2f2f2',r:24,z:-1}),
 rect(107.5,265.5,555,209,{fill:'#fff',stroke:'#bdbdbd',lw:1.6,r:22,z:-1}),
 rect(239,48.5,339,205,{stroke:'#878787',lw:2,z:15}),
 rect(257.5,268.5,14.5,205,{stroke:'#878787',lw:2,z:15}),
 rect(313.5,268.5,14.5,205,{stroke:'#878787',lw:2,z:15}),
 rect(75,50,4.5,100,{fill:'#f8766d',z:2}),rect(75,155,4.5,101,{fill:'#7cb342',z:2}),
 rect(74.5,264,4.5,100,{fill:'#f8766d',z:2}),rect(74.5,369,4.5,100,{fill:'#7cb342',z:2}),
 txt(48,20,'A',{b:1,s:25}),txt(48,560,'B',{b:1,s:24}),txt(604,560,'C',{b:1,s:24}),
 txt(57,100,'HPC7',{rot:Math.PI/2,s:25}),txt(57,204,'mast',{rot:Math.PI/2,s:26}),
 txt(57,307,'HPC7',{rot:Math.PI/2,s:26}),txt(57,415,'mast',{rot:Math.PI/2,s:26}),
 txt(91,148,'RNASeq',{rot:Math.PI/2,s:21,b:1,c:col.green}),txt(92,367,'Erg',{rot:Math.PI/2,s:19,b:1,c:col.orange}),
 txt(582,57,'ΔGE',{a:'left',s:22.5,f:serifFont}),txt(210,281,'ΔTF',{a:'left',s:22,f:serifFont}),txt(331,281,'ΔTF',{a:'left',s:22,f:serifFont}),
 txt(158,494,'Pdgfrb',{a:'left',s:26,c:'#2a3172'}),
 ...brace(43,145,247),...brace(266,368,470),
 txt(694,146,'ΔGE',{a:'left',s:24,f:serifFont}),txt(745,157,'HPC7/mast',{a:'left',s:14.7,i:1,f:serifFont}),
 txt(694,368,'ΔTF',{a:'left',s:24,f:serifFont}),txt(741,379,'HPC7/mast',{a:'left',s:14.7,i:1,f:serifFont}),
 pl([[792,168],[792,256]]),poly([[786,252],[792,255],[798,252],[792,264]],'#222'),
 pl([[798,367],[1008,367],[1008,322]]),poly([[1002,326],[1008,323],[1014,326],[1008,314]],'#222'),
 txt(750,287,'Δ',{a:'left',s:27,f:serifFont}),txt(767,287,'GE',{a:'left',s:27,i:1,f:serifFont}),txt(803,296,'j',{a:'left',s:18,i:1,f:serifFont}),
 txt(821,285,'~',{a:'left',s:32,f:serifFont}),txt(848,287,'α',{a:'left',s:29,i:1,f:serifFont}),txt(865,295,'0',{a:'left',s:18,f:serifFont}),
 txt(896,287,'+',{s:30,f:serifFont}),txt(932,285,'∑',{s:60,f:'"DejaVu Serif",serif'}),txt(933,243,'10',{s:18,f:serifFont}),txt(932,327,'i=1',{s:18,i:1,f:serifFont}),
 txt(959,287,'α',{a:'left',s:29,i:1,f:serifFont}),txt(975,295,'i',{a:'left',s:18,i:1,f:serifFont}),txt(985,287,'Δ',{a:'left',s:27,f:serifFont}),txt(1003,287,'TF',{a:'left',s:27,i:1,f:serifFont}),txt(1037,296,'i,j',{a:'left',s:18,i:1,f:serifFont}),
 txt(1084,287,'+',{s:30,f:serifFont}),txt(1103,287,'ε',{a:'left',s:29,i:1,f:serifFont}),txt(1116,296,'j',{a:'left',s:18,i:1,f:serifFont}),
 txt(372,639,'corr coeff = 0.649',{a:'left',s:19}),txt(905,643,'corr coeff = 0.664',{a:'left',s:19}),
 txt(19,757,'R²',{s:22,c:'#333'}),txt(607,733,'R²',{s:22,c:'#333'})
];
const titleOf=(text,left,top,fontSize)=>({text,left,top,padding:0,textAlign:'center',textVerticalAlign:'middle',textStyle:{fontFamily:sansFont,fontSize,fontWeight:'bold',color:col.dark}});
const titles=[titleOf('Multiple Linear Regression Model',322,570,27),titleOf('Generalized Additive Model',892.5,570,27),titleOf('Num of TFs ≥ 5',476,612,18.5),titleOf('GAM with interaction',1009,614,18.5)];
const chart=echarts.init(document.getElementById('c'),null,{renderer:'canvas'});
chart.setOption({animation:false,backgroundColor:'#fff',title:titles,grid:grids,xAxis:xAxes,yAxis:yAxes,series,graphic:{elements:graphic},tooltip:{show:false}});
</script></body></html>
